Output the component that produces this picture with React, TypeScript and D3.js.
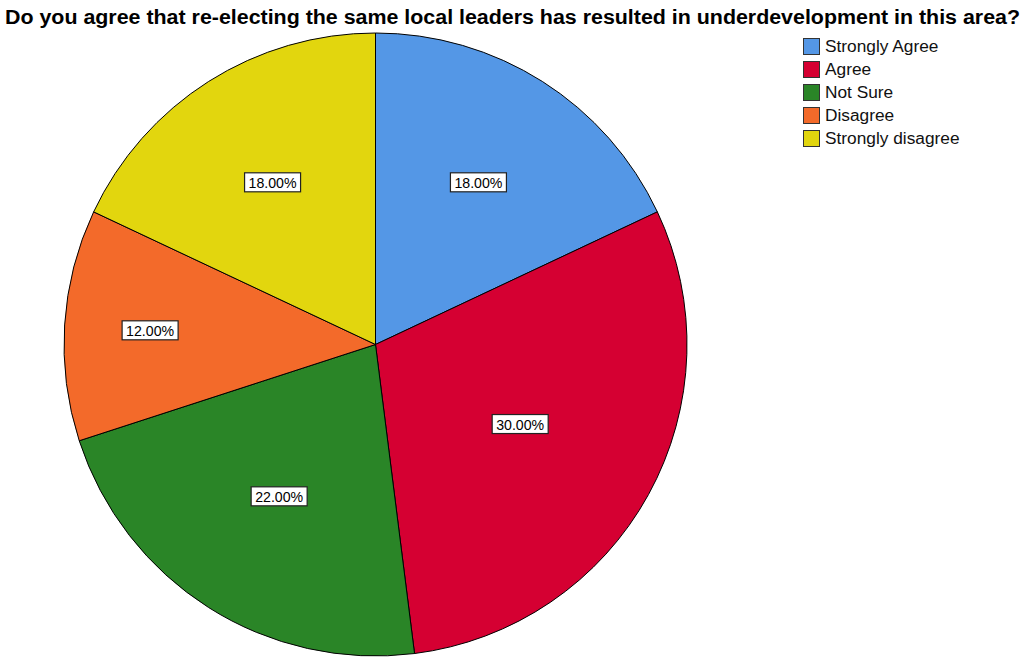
import React from "react";
import * as d3 from "d3";

const categories = ["Strongly Agree", "Agree", "Not Sure", "Disagree", "Strongly disagree"];
const percents = [18, 30, 22, 12, 18];
const colors = ["#5497E6", "#D50032", "#2A8527", "#F36A2A", "#E2D60E"];
const title = "Do you agree that re-electing the same local leaders has resulted in underdevelopment in this area?";

const W = 1025;
const H = 658;
const cx = 375.5;
const cy = 344.5;
const R = 311.5;

export default function App() {
  const total = d3.sum(percents);
  const pie = d3.pie<number>().sort(null).value((d) => d)(percents);
  const arc = d3.arc<d3.PieArcDatum<number>>().innerRadius(0).outerRadius(R);
  const fmt = (v: number) => v.toFixed(2) + "%";
  return (
    <div style={{ position: "absolute", left: 0, top: 0 }}>
      <svg width={W} height={H} style={{ display: "block", fontFamily: "'Liberation Sans', Arial, sans-serif" }}>
        <rect width={W} height={H} fill="#fff" />
        <text x={5} y={24} fontSize={20} fontWeight="bold" fill="#000" textLength={1015} lengthAdjust="spacingAndGlyphs">
          {title}
        </text>
        <g transform={`translate(${cx},${cy})`}>
          {pie.map((p, i) => (
            <path key={i} d={arc(p) || ""} fill={colors[i]} stroke="#000" strokeWidth={1} strokeLinejoin="round" />
          ))}
          {pie.map((p, i) => {
            const frac = p.data / total;
            const mid = (p.startAngle + p.endAngle) / 2;
            const rr = R * (0.4 + 0.039 / frac);
            const x = Math.sin(mid) * rr;
            const y = -Math.cos(mid) * rr;
            const label = fmt(p.data);
            const bw = 56;
            const bh = 19;
            return (
              <g key={"l" + i} transform={`translate(${x},${y})`}>
                <rect x={-bw / 2} y={-bh / 2} width={bw} height={bh} fill="#fff" stroke="#222" strokeWidth={1.2} />
                <text x={0} y={5.5} textAnchor="middle" fontSize={15.5} fill="#000" textLength={48} lengthAdjust="spacingAndGlyphs">
                  {label}
                </text>
              </g>
            );
          })}
        </g>
        <g transform="translate(803,38)">
          {categories.map((c, i) => (
            <g key={c} transform={`translate(0,${i * 23})`}>
              <rect x={0.5} y={0.5} width={16} height={16} fill={colors[i]} stroke="#333" strokeWidth={1} />
              <text x={22} y={14} fontSize={17.3} fill="#111">
                {c}
              </text>
            </g>
          ))}
        </g>
      </svg>
    </div>
  );
}
